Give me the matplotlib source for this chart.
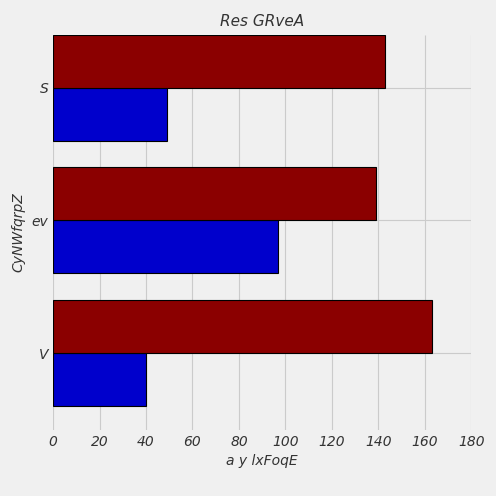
import matplotlib
matplotlib.use("Agg")
import matplotlib.pyplot as plt
import numpy as np

plt.style.use("fivethirtyeight")
categories = ["V", "ev", "S"]
blue_vals = [40, 97, 49]
red_vals = [163, 139, 143]

fig = plt.figure(figsize=(4.96, 4.96), dpi=100)
fig.patch.set_facecolor("#f0f0f0")
ax = fig.add_axes([0.107, 0.133, 0.843, 0.797])
ax.set_facecolor("#f0f0f0")
y = np.arange(len(categories))
h = 0.4
ax.barh(y - h/2, blue_vals, height=h, color="#0000cc", edgecolor="black", linewidth=0.8)
ax.barh(y + h/2, red_vals, height=h, color="#8b0000", edgecolor="black", linewidth=0.8)
ax.set_yticks(y)
ax.set_yticklabels(categories, fontstyle="italic", fontsize=10, color="#333333")
ax.set_xlim(0, 180)
ax.set_xticks(range(0, 181, 20))
ax.set_xticklabels([str(v) for v in range(0, 181, 20)], fontstyle="italic", fontsize=10, color="#333333")
ax.set_ylim(-0.58, 2.4)
ax.grid(True, color="#cbcbcb", linewidth=0.8)
ax.set_axisbelow(True)
for s in ax.spines.values():
    s.set_visible(False)
ax.tick_params(length=0)
ax.set_title("Res GRveA", fontstyle="italic", fontsize=11, color="#333333")
ax.set_xlabel("a y lxFoqE", fontstyle="italic", fontsize=10, color="#333333")
ax.set_ylabel("CyNWfqrpZ", fontstyle="italic", fontsize=10, color="#333333")
fig.savefig("out.png", dpi=100, facecolor="#f0f0f0")
